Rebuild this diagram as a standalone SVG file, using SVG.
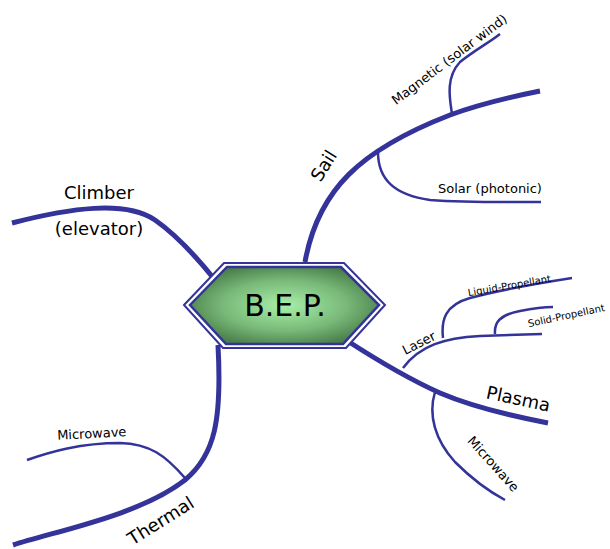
<svg xmlns="http://www.w3.org/2000/svg" width="610" height="549" viewBox="0 0 610 549">
<style>
.main{fill:none;stroke:#333399;stroke-width:5;stroke-linecap:butt}
.sub{fill:none;stroke:#333399;stroke-width:2.5}
text{font-family:"Comic Sans MS","DejaVu Sans",sans-serif;fill:#000}
.big{font-size:18px}
.mid{font-size:13px}
.sm{font-size:10px}
</style>
<defs>
<radialGradient id="g" cx="0.5" cy="0.5" r="0.55">
<stop offset="0" stop-color="#a8f0a8"/>
<stop offset="0.6" stop-color="#78b878"/>
<stop offset="1" stop-color="#4a7e4a"/>
</radialGradient>
</defs>
<g id="connectors">
<path class="main" d="M305,262 C318,190 360,150 450,115 C480,104 510,97 540,91"/>
<path class="sub" d="M378,152 C378,180 395,195 430,200 C470,203 510,202 541,202"/>
<path class="sub" d="M452,114 C450,100 445,78 460,62 C475,50 490,42 500,34"/>
<path class="main" d="M12,223 C70,208 125,200 155,220 C175,234 195,255 215,280"/>
<path class="main" d="M218,345 C222,420 215,455 185,480 C140,515 60,530 13,545"/>
<path class="sub" d="M185,478 C165,455 150,444 120,443 C80,443 50,452 27,460"/>
<path class="main" d="M346,340 Q400,375 440,393 Q480,410 548,423"/>
<path class="sub" d="M403,368 C420,345 445,338 480,336 L542,334"/>
<path class="sub" d="M443,338 C441,320 445,305 470,298 C500,290 540,283 572,278"/>
<path class="sub" d="M495,334 C494,322 500,315 520,311 C535,308 545,307 553,307"/>
<path class="sub" d="M435,392 C428,415 435,440 455,462 C475,482 490,492 505,500"/>
</g>
<g id="center">
<polygon points="184,305 224,263 344,263 385,305 346,348 223,348" fill="#fff" stroke="#333399" stroke-width="2"/>
<polygon points="190,305 227,267 341,267 379,305 343,344 226,344" fill="url(#g)" stroke="#333399" stroke-width="2.5"/>
<text x="285" y="316" font-size="30" text-anchor="middle">B.E.P.</text>
</g>
<g id="sail"><text class="big" x="0" y="0" text-anchor="middle" transform="translate(329,169) rotate(-58)">Sail</text></g>
<g id="magnetic"><text class="mid" x="0" y="0" text-anchor="middle" transform="translate(452,63) rotate(-37)">Magnetic (solar wind)</text></g>
<g id="solar"><text class="mid" x="490" y="193" text-anchor="middle">Solar (photonic)</text></g>
<g id="climber"><text class="big" x="99" y="199" text-anchor="middle">Climber</text><text class="big" x="99" y="235" text-anchor="middle">(elevator)</text></g>
<g id="thermal"><text class="big" x="0" y="0" text-anchor="middle" transform="translate(164,526) rotate(-32)">Thermal</text></g>
<g id="microwave-left"><text class="mid" x="0" y="0" text-anchor="middle" transform="translate(92,438) rotate(-3)">Microwave</text></g>
<g id="plasma"><text class="big" x="0" y="0" text-anchor="middle" transform="translate(517,405) rotate(12)">Plasma</text></g>
<g id="laser"><text class="mid" x="0" y="0" text-anchor="middle" transform="translate(421,347) rotate(-27)">Laser</text></g>
<g id="liquid"><text class="sm" x="0" y="0" text-anchor="middle" transform="translate(510,289) rotate(-10)">Liquid-Propellant</text></g>
<g id="solid"><text class="sm" x="0" y="0" text-anchor="middle" transform="translate(567,319) rotate(-12)">Solid-Propellant</text></g>
<g id="microwave-right"><text class="mid" x="0" y="0" text-anchor="middle" transform="translate(490,467) rotate(48)">Microwave</text></g>
</svg>
